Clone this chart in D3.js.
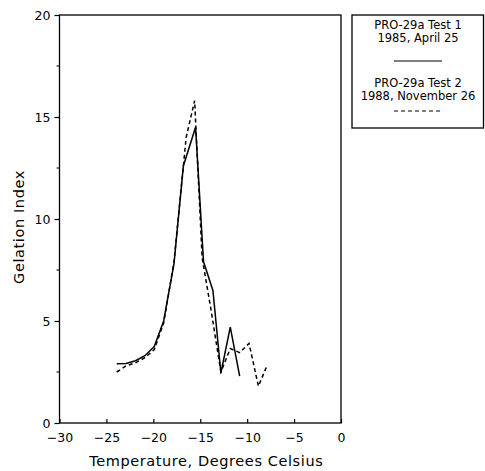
<!DOCTYPE html>
<html>

<head>
  <meta charset="utf-8">
  <title>Gelation Index</title>
  <script src="https://cdn.jsdelivr.net/npm/d3@7"></script>
  <style>
    body {
      margin: 0;
      background: #fff;
    }

    text {
      font-family: "DejaVu Sans", sans-serif;
      fill: #000;
    }

    .frame {
      fill: none;
      stroke: #000;
      stroke-width: 1.3px;
    }

    .test1 {
      fill: none;
      stroke: #000;
      stroke-width: 1.5px;
    }

    .test2 {
      fill: none;
      stroke: #000;
      stroke-width: 1.5px;
      stroke-dasharray: 4 3;
    }
  </style>
</head>

<body>
  <svg id="chart" width="485" height="471"></svg>

  <script type="text/javascript">
    // data
    var test1Temp = [-23.9, -22.9, -21.9, -20.9, -19.9, -18.9, -17.8, -16.8, -15.5, -14.65, -13.65, -12.8, -11.8, -10.8];
    var test1Index = [2.9, 2.92, 3.05, 3.3, 3.75, 5.0, 7.8, 12.6, 14.5, 7.9, 6.5, 2.45, 4.7, 2.3];

    var test2Temp = [-23.9, -22.9, -21.9, -20.9, -19.9, -18.9, -17.8, -16.8, -16.5, -15.6, -14.8, -13.8, -12.8, -11.8, -10.8, -9.8, -8.8, -7.9];
    var test2Index = [2.5, 2.8, 2.95, 3.2, 3.6, 4.9, 7.9, 12.6, 14.0, 15.8, 8.1, 5.4, 2.5, 3.65, 3.45, 3.9, 1.8, 2.8];

    var xTicks = [-30, -25, -20, -15, -10, -5, 0];
    var yTicks = [0, 5, 10, 15, 20];
    var yMinorTicks = [2.5, 7.5, 12.5, 17.5];

    var legendLines = [
      ['PRO-29a Test 1', '1985, April 25'],
      ['PRO-29a Test 2', '1988, November 26']
    ];

    var svg = d3.select('#chart');

    var x = d3.scaleLinear().domain([-30, 0]).range([59.5, 341]);
    var y = d3.scaleLinear().domain([0, 20]).range([423, 15]);

    // frame
    svg.append('rect')
      .attr('class', 'frame')
      .attr('x', x(-30))
      .attr('y', y(20))
      .attr('width', x(0) - x(-30))
      .attr('height', y(0) - y(20));

    // x axis, ticks point inward
    var xAxis = svg.append('g')
      .attr('transform', 'translate(0,' + y(0) + ')')
      .call(d3.axisBottom(x).tickValues(xTicks).tickSizeInner(-4).tickSizeOuter(0).tickPadding(10));
    xAxis.select('.domain').remove();
    xAxis.selectAll('line').attr('stroke-width', 1.2);
    xAxis.selectAll('text').style('font-size', '12.5px');

    var yAxis = svg.append('g')
      .attr('transform', 'translate(' + x(-30) + ',0)')
      .call(d3.axisLeft(y).tickValues(yTicks).tickSizeInner(5).tickSizeOuter(0).tickPadding(4));
    yAxis.select('.domain').remove();
    yAxis.selectAll('line').attr('stroke-width', 1.2);
    yAxis.selectAll('text').style('font-size', '12.5px');

    svg.append('g')
      .selectAll('line')
      .data(yMinorTicks)
      .enter()
      .append('line')
      .attr('x1', x(-30) - 3)
      .attr('x2', x(-30))
      .attr('y1', d => y(d))
      .attr('y2', d => y(d))
      .attr('stroke', '#000');

    // axis titles
    svg.append('text')
      .attr('x', (x(-30) + x(0)) / 2 + 6)
      .attr('y', 466)
      .attr('text-anchor', 'middle')
      .style('font-size', '14.5px')
      .style('letter-spacing', '0.6px')
      .text('Temperature, Degrees Celsius');

    svg.append('text')
      .attr('transform', 'translate(24,' + 227 + ') rotate(-90)')
      .attr('text-anchor', 'middle')
      .style('font-size', '14.5px')
      .style('letter-spacing', '0.6px')
      .text('Gelation Index');

    // lines
    var line = d3.line()
      .x(d => x(d[0]))
      .y(d => y(d[1]));

    svg.append('path')
      .attr('class', 'test1')
      .attr('d', line(d3.zip(test1Temp, test1Index)));

    svg.append('path')
      .attr('class', 'test2')
      .attr('d', line(d3.zip(test2Temp, test2Index)));

    // legend
    var legend = svg.append('g');
    legend.append('rect')
      .attr('class', 'frame')
      .attr('x', 352)
      .attr('y', 15)
      .attr('width', 131.5)
      .attr('height', 113);

    var rowY = [[25, 38, 61], [83, 96, 111]];
    legendLines.forEach((lines, i) => {
      lines.forEach((t, j) => {
        legend.append('text')
          .attr('x', 418)
          .attr('y', rowY[i][j])
          .attr('dy', '0.35em')
          .attr('text-anchor', 'middle')
          .style('font-size', '11.5px')
          .text(t);
      });
      legend.append('line')
        .attr('class', i == 0 ? 'test1' : 'test2')
        .attr('x1', 394)
        .attr('x2', 442)
        .attr('y1', rowY[i][2])
        .attr('y2', rowY[i][2])
        .style('stroke-width', 1.2);
    });
  </script>
</body>

</html>
